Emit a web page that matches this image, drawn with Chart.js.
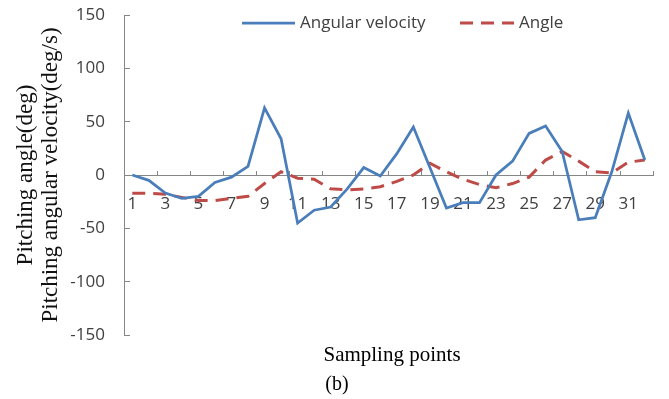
<!DOCTYPE html>
<html>
<head>
<meta charset="utf-8">
<script src="https://cdn.jsdelivr.net/npm/chart.js@4"></script>
<style>
  html, body { margin: 0; padding: 0; background: #fff; }
  #wrap { width: 669px; height: 399px; }
</style>
</head>
<body>
<div id="wrap"><canvas id="chart"></canvas></div>
<script>
const samples = ['1','2','3','4','5','6','7','8','9','10','11','12','13','14','15','16',
                 '17','18','19','20','21','22','23','24','25','26','27','28','29','30','31','32']
const angularVelocity = [0, -5, -17, -22, -20, -7, -2, 8, 63, 34, -45, -33, -30, -13, 7, -1,
                         20, 45, 7, -31, -26, -26, 0, 13, 39, 46, 22, -42, -40, 3, 58, 14]
const angle = [-17, -17, -18, -21, -24, -24, -22, -20, -8, 3, -3, -4, -13, -14, -13, -11,
               -6, 0, 11, 3, -4, -9, -12, -8, -2, 14, 22, 13, 3, 2, 12, 14]
const yTicks = [-150, -100, -50, 0, 50, 100, 150]

const axisGray = '#868686'
const textGray = '#404040'
const blue = '#4a7ebb'
const red = '#be4b48'

Chart.defaults.font.family = "'Open Sans', sans-serif"
Chart.defaults.font.size = 17

// legend + x title drawn on top, the legend sits inside the plot like in Excel
const extras = {
  id: 'extras',
  afterDraw(chart) {
    const ctx = chart.ctx
    ctx.save()
    ctx.lineCap = 'butt'
    ctx.strokeStyle = blue
    ctx.lineWidth = 2.75
    ctx.beginPath()
    ctx.moveTo(242, 23)
    ctx.lineTo(295, 23)
    ctx.stroke()
    ctx.strokeStyle = red
    ctx.lineWidth = 3
    ctx.setLineDash([13, 8])
    ctx.beginPath()
    ctx.moveTo(460, 23)
    ctx.lineTo(514, 23)
    ctx.stroke()
    ctx.setLineDash([])

    ctx.fillStyle = textGray
    ctx.font = "17px 'Open Sans', sans-serif"
    ctx.textBaseline = 'middle'
    ctx.textAlign = 'left'
    ctx.fillText(chart.data.datasets[0].label, 300, 23)
    ctx.fillText(chart.data.datasets[1].label, 519, 23)

    ctx.fillStyle = '#000'
    ctx.font = "21px 'Liberation Serif', serif"
    ctx.textAlign = 'center'
    ctx.fillText('Sampling points', 392, 355)
    ctx.font = "20px 'Liberation Serif', serif"
    ctx.fillText('(b)', 337, 385)
    ctx.restore()
  }
}

new Chart(document.getElementById('chart'), {
  type: 'line',
  data: {
    labels: samples,
    datasets: [
      {
        label: 'Angular velocity',
        data: angularVelocity,
        borderColor: blue,
        borderWidth: 2.75,
        pointRadius: 0,
        tension: 0,
        fill: false
      },
      {
        label: 'Angle',
        data: angle,
        borderColor: red,
        borderWidth: 3,
        borderDash: [13, 8],
        pointRadius: 0,
        tension: 0,
        fill: false
      }
    ]
  },
  options: {
    responsive: true,
    maintainAspectRatio: false,
    animation: false,
    layout: { padding: { left: 0, right: 10, top: 15, bottom: 64 } },
    plugins: {
      legend: { display: false },
      tooltip: { enabled: false }
    },
    scales: {
      x: {
        type: 'category',
        position: { y: 0 },
        offset: true,
        afterFit: s => { s.height = 0 },
        grid: {
          offset: true,
          drawOnChartArea: false,
          tickLength: -5,
          color: c => (c.type === 'scale' || c.index % 2 === 0) ? axisGray : 'rgba(0,0,0,0)'
        },
        border: { color: axisGray, width: 1 },
        ticks: {
          autoSkip: false,
          maxRotation: 0,
          padding: 24,
          color: textGray,
          callback: (v, i) => i % 2 === 0 ? samples[i] : ''
        }
      },
      y: {
        min: yTicks[0],
        max: yTicks[yTicks.length - 1],
        afterBuildTicks: s => { s.ticks = yTicks.map(v => ({ value: v })) },
        afterFit: s => {
          s.width = 124
          // big tick padding would otherwise push the plot down
          s.paddingTop = 0
          s.paddingBottom = 0
        },
        grid: { drawOnChartArea: false, tickLength: -6, color: axisGray },
        border: { color: axisGray, width: 1 },
        ticks: { padding: 25, color: textGray },
        title: {
          display: true,
          text: ['Pitching angle(deg)', 'Pitching angular velocity(deg/s)'],
          color: '#111',
          font: { family: "'Liberation Serif', serif", size: 23, lineHeight: '25px' },
          padding: { top: 13.5, bottom: 0 }
        }
      }
    }
  },
  plugins: [extras]
})
</script>
</body>
</html>
